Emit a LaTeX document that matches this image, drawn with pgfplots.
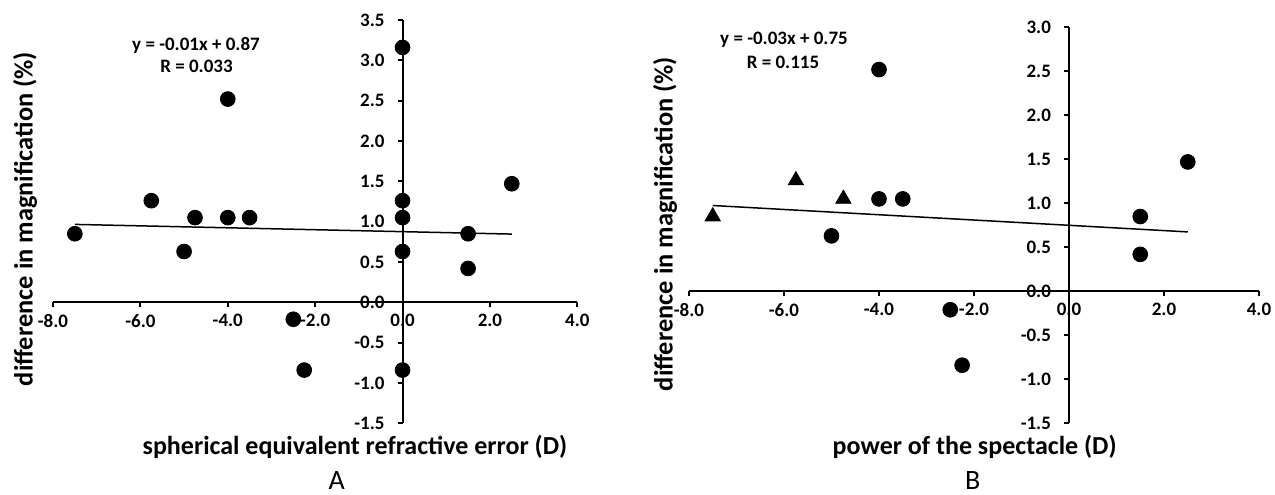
\documentclass[border=0pt]{standalone}
\usepackage{fontspec}
\setmainfont{Carlito}
\usepackage{pgfplots}
\pgfplotsset{compat=1.18}
\pgfplotsset{
  myaxis/.style={
    scale only axis, axis lines=middle, clip=false,
    xmin=-8, xmax=4, xtick={-8,-6,-4,-2,0,2,4},
    tick align=outside, major tick length=2.5pt,
    axis line style={line width=1pt, -},
    every inner x axis line/.append style={-},
    every inner y axis line/.append style={-},
    every tick/.style={black, line width=1pt},
    hide obscured x ticks=false, hide obscured y ticks=false,
    ticklabel style={font=\fontsize{9.5}{11}\selectfont\bfseries},
    yticklabel style={xshift=-3pt},
    xticklabel style={/pgf/number format/.cd, fixed, fixed zerofill, precision=1, assume math mode=true},
    yticklabel style={/pgf/number format/.cd, fixed, fixed zerofill, precision=1, assume math mode=true},
  },
}
\begin{document}
\begin{tikzpicture}
\useasboundingbox (0pt,0pt) rectangle (637.5pt,247pt);
% Panel A
\begin{axis}[myaxis, at={(26.5pt,35.35pt)}, anchor=south west,
  width=262.15pt, height=201.65pt,
  ymin=-1.5, ymax=3.5, ytick={-1.5,-1,-0.5,0,0.5,1,1.5,2,2.5,3,3.5}]
\addplot[black, line width=0.75pt] coordinates {(-7.5,0.966) (2.5,0.846)};
\addplot[only marks, mark=*, mark size=3.7pt, black] coordinates {
(-7.5,0.85) (-5.75,1.26) (-5,0.63) (-4.75,1.05) (-4,2.52) (-4,1.05) (-3.5,1.05)
(-2.5,-0.21) (-2.25,-0.84) (0,3.16) (0,1.26) (0,1.05) (0,0.63) (0,-0.84)
(1.5,0.85) (1.5,0.42) (2.5,1.47)};
\end{axis}
% Panel B
\begin{axis}[myaxis, at={(344.5pt,35.35pt)}, anchor=south west,
  width=285pt, height=198pt,
  ymin=-1.5, ymax=3.0, ytick={-1.5,-1,-0.5,0,0.5,1,1.5,2,2.5,3}]
\addplot[black, line width=0.75pt] coordinates {(-7.5,0.975) (2.5,0.675)};
\addplot[only marks, mark=triangle*, mark size=4.4pt, black] coordinates {
(-7.5,0.85) (-5.75,1.26) (-4.75,1.05)};
\addplot[only marks, mark=*, mark size=3.7pt, black] coordinates {
(-5,0.63) (-4,2.52) (-4,1.05) (-3.5,1.05) (-2.5,-0.21) (-2.25,-0.84)
(1.5,0.85) (1.5,0.42) (2.5,1.47)};
\end{axis}
% labels
\node[rotate=90, font=\fontsize{13.2}{15}\selectfont\bfseries] at (12.5pt,137.5pt) {difference in magnification (\%)};
\node[rotate=90, font=\fontsize{13.2}{15}\selectfont\bfseries] at (332.5pt,135pt) {difference in magnification (\%)};
\node[anchor=base, font=\fontsize{13}{15}\selectfont\bfseries] at (177.5pt,20pt) {spherical equivalent refractive error (D)};
\node[anchor=base, font=\fontsize{13}{15}\selectfont\bfseries] at (487.35pt,20pt) {power of the spectacle (D)};
\node[anchor=base, font=\fontsize{14}{16}\selectfont] at (168.35pt,2.5pt) {A};
\node[anchor=base, font=\fontsize{14}{16}\selectfont] at (486.35pt,2.5pt) {B};
\node[font=\fontsize{9.5}{11}\selectfont\bfseries] at (98pt,224.5pt) {y = -0.01x + 0.87};
\node[font=\fontsize{9.5}{11}\selectfont\bfseries] at (98.25pt,213.65pt) {R = 0.033};
\node[font=\fontsize{9.5}{11}\selectfont\bfseries] at (392pt,227pt) {y = -0.03x + 0.75};
\node[font=\fontsize{9.5}{11}\selectfont\bfseries] at (391.5pt,215.65pt) {R = 0.115};
\end{tikzpicture}
\end{document}
